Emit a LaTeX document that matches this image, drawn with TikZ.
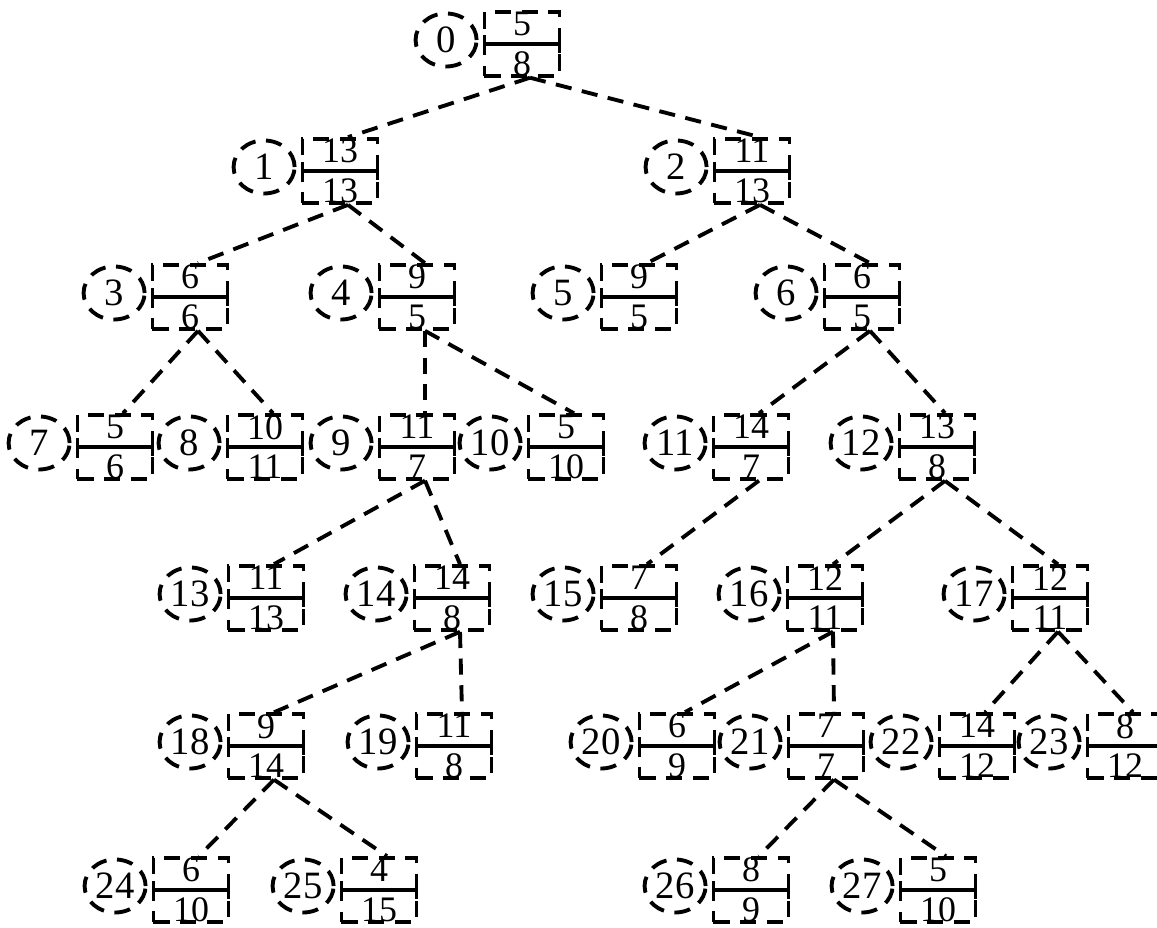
\documentclass[tikz,border=0pt]{standalone}
\usepackage{fontspec}
\setmainfont{Liberation Serif}
\usetikzlibrary{arrows.meta,positioning,shapes.geometric}

\begin{document}
\begin{tikzpicture}[x=0.01cm,y=-0.01cm,
  font=\fontsize{10.2}{11.3}\selectfont,
  dashline/.style={line width=1.1pt,dash pattern=on 4.6pt off 3pt},
  fracbox/.style={dashline,draw,rectangle,minimum width=0.75cm,minimum height=0.6cm,inner sep=0pt,align=center},
  numell/.style={dashline,draw,ellipse,minimum width=0.61cm,minimum height=0.53cm,inner sep=0pt,font=\fontsize{11}{12}\selectfont},
  fracrule/.style={solid,line width=0.9pt,{Bar[width=5pt]}-{Bar[width=5pt]}},
  treeedge/.style={dashline}]
  \useasboundingbox (0,0) rectangle (1157,928);
  % tree nodes: number in an ellipse, fraction in a box
  \foreach \i/\x/\y/\a/\b in {0/522/44/5/8, 1/340/171/13/13, 2/752/171/11/13,
      3/190/297/6/6, 4/417/297/9/5, 5/639/297/9/5, 6/862/297/6/5,
      7/115/447/5/6, 8/265/447/10/11, 9/417/447/11/7, 10/566/447/5/10,
      11/751/447/14/7, 12/937/447/13/8,
      13/266/598/11/13, 14/452/598/14/8, 15/639/598/7/8, 16/825/598/12/11, 17/1050/598/12/11,
      18/266/746/9/14, 19/454/746/11/8, 20/677/746/6/9, 21/826/746/7/7, 22/977/746/14/12, 23/1125/746/8/12,
      24/191/890/6/10, 25/379/890/4/15, 26/751/890/8/9, 27/938/890/5/10} {
    \node[fracbox] (f\i) at (\x,\y) {\a\\\b};
    \node[numell,left=0.04cm of f\i,yshift=0.04cm] (n\i) {\i};
    \draw[fracrule] (f\i.west) -- (f\i.east);
  }
  % parent -> child
  \foreach \p/\c in {0/1,0/2,1/3,1/4,2/5,2/6,3/7,3/8,4/9,4/10,6/11,6/12,
      9/13,9/14,11/15,12/16,12/17,14/18,14/19,16/20,16/21,17/22,17/23,
      18/24,18/25,21/26,21/27}
    \draw[treeedge] ([xshift=0.08cm]f\p.south) -- ([xshift=0.08cm]f\c.north);
\end{tikzpicture}
\end{document}
